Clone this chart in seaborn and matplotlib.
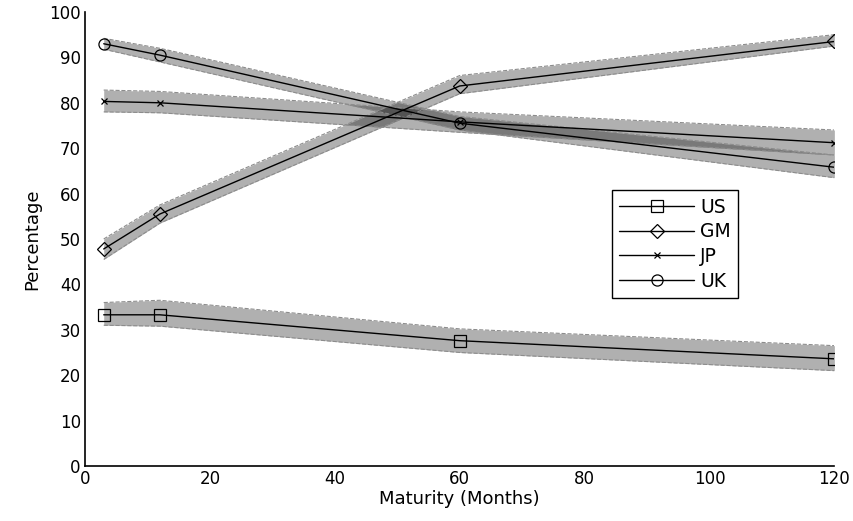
import numpy as np
import pandas as pd
import matplotlib
matplotlib.use('Agg')
import matplotlib.pyplot as plt
import seaborn as sns

sns.set_style('white')
plt.rcParams['font.family'] = ['DejaVu Sans']
plt.rcParams['text.color'] = 'black'
plt.rcParams['axes.labelcolor'] = 'black'

# ===== data =====
maturity = [3, 12, 60, 120]
series_names = ['US', 'GM', 'JP', 'UK']
markers = ['s', 'D', 'x', 'o']

us = [33.3, 33.3, 27.6, 23.6]
us_lo = [31.0, 30.8, 25.0, 21.0]
us_hi = [36.0, 36.5, 30.2, 26.5]

gm = [47.8, 55.5, 83.7, 93.5]
gm_lo = [45.5, 53.5, 82.0, 92.5]
gm_hi = [50.0, 57.5, 86.0, 95.0]

jp = [80.3, 80.0, 75.8, 71.2]
jp_lo = [78.0, 77.8, 73.5, 68.5]
jp_hi = [82.8, 82.5, 78.0, 74.0]

uk = [93.0, 90.5, 75.5, 65.8]
uk_lo = [91.8, 89.0, 74.0, 63.5]
uk_hi = [94.2, 92.0, 77.0, 68.5]

values = [us, gm, jp, uk]
lows = [us_lo, gm_lo, jp_lo, uk_lo]
highs = [us_hi, gm_hi, jp_hi, uk_hi]

fig = plt.figure(figsize=(8.54, 5.21), dpi=100)
ax = fig.add_axes([0.0995, 0.1056, 0.8775, 0.8714])

# confidence bands first
for lo, hi in zip(lows, highs):
    ax.fill_between(maturity, lo, hi, color='black', alpha=0.31, linewidth=0)
    ax.plot(maturity, lo, color='0.55', lw=0.8, ls='--')
    ax.plot(maturity, hi, color='0.55', lw=0.8, ls='--')

msize = {'s': 8, 'D': 7, 'x': 5, 'o': 8}
for name, vals, mk in zip(series_names, values, markers):
    df = pd.DataFrame({'Maturity': maturity, 'Value': vals})
    sns.lineplot(data=df, x='Maturity', y='Value', ax=ax, color='black',
                 marker=mk, markersize=msize[mk],
                 markerfacecolor='none', markeredgecolor='black',
                 markeredgewidth=0.9, linewidth=1.0, label=name)

ax.set_xlim(0, 120)
ax.set_ylim(0, 100)
ax.set_xticks(np.arange(0, 121, 20))
ax.set_yticks(np.arange(0, 101, 10))
ax.tick_params(direction='in', length=5, width=1, labelsize=12,
               colors='black', pad=3)
ax.set_xlabel('Maturity (Months)', fontsize=13, labelpad=1)
ax.set_ylabel('Percentage', fontsize=13, labelpad=6)
sns.despine(ax=ax)
for sp in ['left', 'bottom']:
    ax.spines[sp].set_color('black')
    ax.spines[sp].set_linewidth(1.2)

leg = ax.legend(loc='lower left', bbox_to_anchor=(0.703, 0.370),
                fancybox=False, edgecolor='black', framealpha=1,
                handlelength=4.0, fontsize=13.5, borderpad=0.4,
                labelspacing=0.3, handletextpad=0.3, borderaxespad=0)
leg.get_frame().set_linewidth(1.0)

fig.savefig('out.png', dpi=100)
